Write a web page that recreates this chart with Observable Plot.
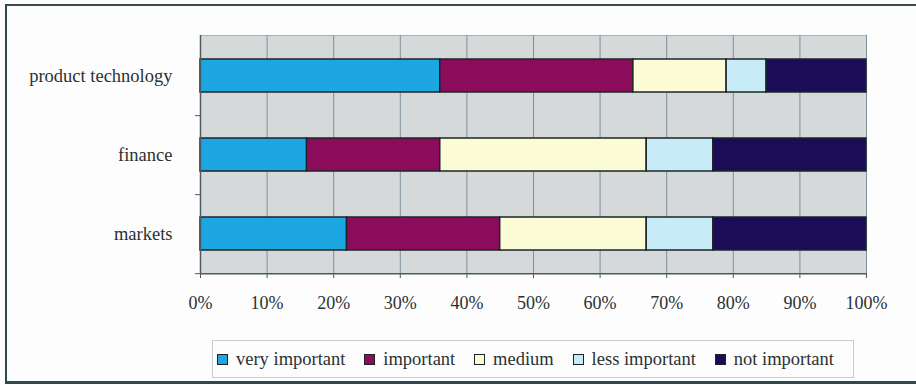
<!DOCTYPE html>
<html>
<head>
<meta charset="utf-8">
<script src="https://cdn.jsdelivr.net/npm/d3@7"></script>
<script src="https://cdn.jsdelivr.net/npm/@observablehq/plot@0.6"></script>
<style>
  html, body { margin: 0; padding: 0; background: #fff; }
  #chart { position: relative; width: 916px; height: 385px; overflow: hidden; background: #fdfdfd;
           font-family: "Liberation Serif", "DejaVu Serif", serif; color: #2b3133; }
  #chart svg { position: absolute; left: 0; top: 0; }
  #outer { position: absolute; left: 5px; top: 4px; width: 940px; height: 375px;
           border-top: 2px solid #3a4c50; border-left: 2px solid #2f4a4e; border-bottom: 3px solid #2f4a4e; }
  #legend { position: absolute; left: 212px; top: 340px; width: 617px; height: 36px;
            border: 1px solid #c9cccc; display: flex; align-items: center;
            justify-content: space-between; padding: 0 19px 0 4px; font-size: 18.5px; }
  #legend .item { display: flex; align-items: center; white-space: nowrap; }
  #legend .sw { width: 9px; height: 9px; border: 1.5px solid #1d2224; margin-right: 8px; }
</style>
</head>
<body>
<div id="chart">
  <div id="outer"></div>
  <div id="legend"></div>
</div>
<script>
// Survey categories (rows of the stacked bar chart)
const categories = ["product technology", "finance", "markets"];

// Importance levels, in stacking order
const levels = ["very important", "important", "medium", "less important", "not important"];
const levelColors = ["#1ca6e2", "#8c0c5c", "#fbfbd6", "#c7ebf7", "#1c0c58"];

// Share of respondents (%) per level, one value per category
const veryImportant = [36, 16, 22];
const important     = [29, 20, 23];
const medium        = [14, 31, 22];
const lessImportant = [6, 10, 10];
const notImportant  = [15, 23, 23];

// Percentage axis ticks
const xTicks = [0, 10, 20, 30, 40, 50, 60, 70, 80, 90, 100];

const seriesByLevel = [veryImportant, important, medium, lessImportant, notImportant];
const rows = [];
levels.forEach((level, j) => {
  categories.forEach((category, i) => {
    rows.push({category, level, value: seriesByLevel[j][i]});
  });
});

const width = 916, height = 385;
const marginTop = 35, marginBottom = 112, marginLeft = 200, marginRight = 50;
const step = (height - marginTop - marginBottom) / categories.length;
const tickLen = 5 / (width - marginLeft - marginRight) * 100;

const plot = Plot.plot({
  width, height, marginTop, marginBottom, marginLeft, marginRight,
  style: {fontFamily: "Liberation Serif, DejaVu Serif, serif", fontSize: "18px", color: "#2b3133", background: "transparent"},
  x: {domain: [0, 100], label: null},
  y: {domain: categories, padding: 0, label: null},
  color: {domain: levels, range: levelColors},
  marks: [
    Plot.frame({fill: "#d6d9d9", stroke: "#a9b1b3"}),
    Plot.gridX(xTicks, {stroke: "#7f909b", strokeOpacity: 1, strokeWidth: 1}),
    Plot.barX(rows, Plot.stackX({
      x: "value", y: "category", fill: "level", order: levels,
      stroke: "#1b2629", strokeWidth: 1.5, insetTop: 23, insetBottom: 23
    })),
    // left axis line
    Plot.ruleX([0], {stroke: "#4d5a5e", strokeWidth: 1.5}),
    // bottom axis line, at the lower edge of the last band
    Plot.ruleY([categories[categories.length - 1]], {dy: step / 2, stroke: "#4d5a5e", strokeWidth: 1.5}),
    // category tick marks between the bands
    Plot.ruleY(categories, {dy: step / 2, x1: -tickLen, x2: 0, stroke: "#4d5a5e", strokeWidth: 1}),
    Plot.axisX(xTicks, {tickSize: 5, tickPadding: 18, tickFormat: d => d + "%", stroke: "#4d5a5e", fill: "#2b3133", fontSize: 18, label: null}),
    Plot.axisY({tickSize: 0, tickPadding: 28, fill: "#2b3133", fontSize: 18.5, label: null})
  ]
});
document.getElementById("chart").appendChild(plot);

const legend = d3.select("#legend");
levels.forEach((level, j) => {
  const item = legend.append("div").attr("class", "item");
  item.append("div").attr("class", "sw").style("background", levelColors[j]);
  item.append("span").text(level);
});
</script>
</body>
</html>
